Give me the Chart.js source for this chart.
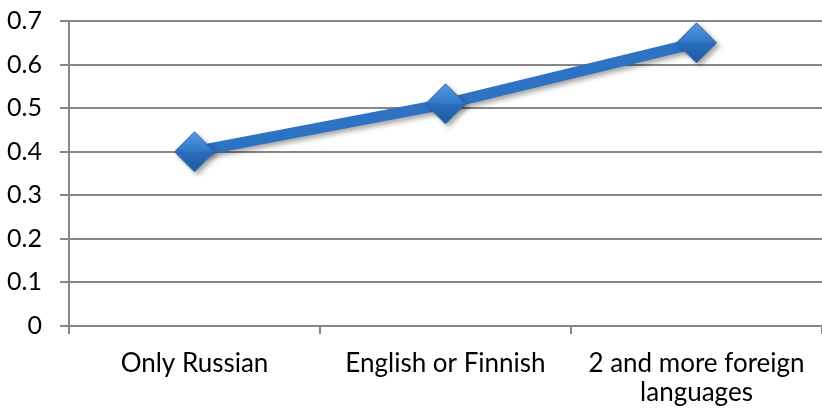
<!DOCTYPE html>
<html>
<head>
<meta charset="utf-8">
<script src="https://cdn.jsdelivr.net/npm/chart.js@4.4.1/dist/chart.umd.min.js"></script>
<style>
  html, body { margin: 0; padding: 0; background: #ffffff; }
  #wrap { width: 822px; height: 410px; }
</style>
</head>
<body>
<div id="wrap"><canvas id="c" width="822" height="410"></canvas></div>
<script>
const categories = ["Only Russian", "English or Finnish", ["2 and more foreign", "languages"]];
const values = [0.40, 0.51, 0.65];
const yTicks = [0, 0.1, 0.2, 0.3, 0.4, 0.5, 0.6, 0.7];

// diamond marker image with Office-like bevel shading
function makeDiamond(r) {
  const s = 2 * r + 2;
  const cv = document.createElement('canvas');
  cv.width = s; cv.height = s;
  const g = cv.getContext('2d');
  const c = s / 2;
  const grad = g.createLinearGradient(0, c - r, 0, c + r);
  grad.addColorStop(0, '#5a9be0');
  grad.addColorStop(0.49, '#2f77c8');
  grad.addColorStop(0.51, '#2a6dbd');
  grad.addColorStop(1, '#1f5aa3');
  g.beginPath();
  g.moveTo(c, c - r);
  g.lineTo(c + r, c);
  g.lineTo(c, c + r);
  g.lineTo(c - r, c);
  g.closePath();
  g.fillStyle = grad;
  g.fill();
  g.lineWidth = 1;
  g.strokeStyle = '#2a62a8';
  g.stroke();
  return cv;
}
const marker = makeDiamond(20);

const shadowPlugin = {
  id: 'shadow',
  beforeDatasetsDraw(chart) {
    const ctx = chart.ctx;
    ctx.save();
    ctx.shadowColor = 'rgba(0,0,0,0.35)';
    ctx.shadowBlur = 5;
    ctx.shadowOffsetX = 3;
    ctx.shadowOffsetY = 3;
  },
  afterDatasetsDraw(chart) {
    chart.ctx.restore();
  }
};

new Chart(document.getElementById('c'), {
  type: 'line',
  data: {
    labels: categories,
    datasets: [{
      data: values,
      borderColor: '#2e73c3',
      borderWidth: 11,
      pointStyle: marker,
      pointRadius: 20,
      pointHoverRadius: 20,
      tension: 0,
      fill: false,
      clip: false
    }]
  },
  options: {
    responsive: false,
    animation: false,
    devicePixelRatio: 1,
    layout: { autoPadding: false, padding: { top: 21, right: 0, left: 0, bottom: 0 } },
    plugins: {
      legend: { display: false },
      tooltip: { enabled: false }
    },
    scales: {
      x: {
        offset: true,
        afterFit(scale) { scale.paddingLeft = 0; scale.paddingRight = 0; scale.height = 84; },
        grid: {
          offset: true,
          drawOnChartArea: false,
          drawTicks: true,
          tickLength: 8,
          color: '#878787',
          lineWidth: 2
        },
        border: { display: true, color: '#878787', width: 2 },
        ticks: {
          color: '#000000',
          font: { family: 'Lato', size: 26, lineHeight: 1.08 },
          padding: 16,
          maxRotation: 0,
          autoSkip: false
        }
      },
      y: {
        min: 0,
        max: 0.7,
        afterBuildTicks(axis) { axis.ticks = yTicks.map(v => ({ value: v })); },
        afterFit(scale) { scale.width = 69; scale.paddingTop = 0; scale.paddingBottom = 0; },
        grid: {
          color: '#878787',
          lineWidth: 2,
          tickLength: 9
        },
        border: { display: true, color: '#878787', width: 2 },
        ticks: {
          color: '#000000',
          font: { family: 'Lato', size: 25 },
          padding: 18,
          callback: v => String(Math.round(v * 10) / 10)
        }
      }
    }
  },
  plugins: [shadowPlugin]
});
</script>
</body>
</html>
